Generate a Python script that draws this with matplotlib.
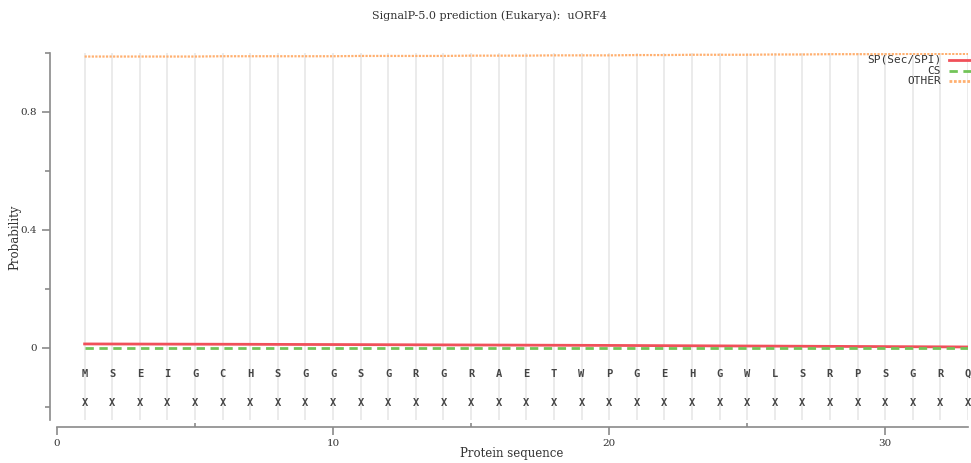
import matplotlib
matplotlib.use("Agg")
import matplotlib.pyplot as plt
from matplotlib.lines import Line2D

# residues of uORF4 and the per-position probabilities
sequence = list("MSEIGCHSGGSGRGRAETWPGEHGWLSRPSGRQ")
region = ["X"] * len(sequence)
positions = list(range(1, len(sequence) + 1))

sp_prob = [0.0130, 0.0128, 0.0126, 0.0124, 0.0122, 0.0120, 0.0118, 0.0115,
           0.0112, 0.0110, 0.0107, 0.0104, 0.0101, 0.0098, 0.0095, 0.0092,
           0.0089, 0.0086, 0.0083, 0.0080, 0.0076, 0.0072, 0.0068, 0.0064,
           0.0060, 0.0056, 0.0052, 0.0048, 0.0044, 0.0040, 0.0036, 0.0032,
           0.0028]
cs_prob = [0.0005] * len(sequence)
other_prob = [0.988, 0.988, 0.988, 0.988, 0.988, 0.989, 0.989, 0.989,
              0.989, 0.989, 0.990, 0.990, 0.990, 0.990, 0.991, 0.991,
              0.991, 0.992, 0.992, 0.992, 0.993, 0.993, 0.994, 0.994,
              0.994, 0.995, 0.995, 0.996, 0.996, 0.996, 0.997, 0.997,
              0.997]

W, H = 971, 463
fig = plt.figure(figsize=(W / 100, H / 100), dpi=100)
ax = fig.add_axes([57 / W, 1 - 420 / H, (968 - 57) / W, (420 - 53) / H])

red = "#f0505a"
green = "#72c458"
orange = "#ffb070"
txt = "#333333"
spine_c = "#8a8a8a"

for p in positions:
    ax.axvline(p, color="#ebebeb", lw=1.4, zorder=0)

ax.plot(positions, other_prob, color=orange, lw=1.6, ls=(0, (1, 0.6)), zorder=3)
ax.plot(positions, sp_prob, color=red, lw=2, zorder=3)
ax.plot(positions, cs_prob, color=green, lw=2, ls=(0, (3, 2)), zorder=4)

for p, aa, r in zip(positions, sequence, region):
    ax.text(p, -0.088, aa, ha="center", va="center", fontsize=7.5,
            family="DejaVu Sans Mono", weight="bold", color="#444444")
    ax.text(p, -0.186, r, ha="center", va="center", fontsize=7.5,
            family="DejaVu Sans Mono", weight="bold", color="#444444")

ax.set_xlim(0, 33)
ax.set_ylim(-0.245, 1.0)

ax.set_xticks([0, 10, 20, 30])
ax.set_xticks([5, 15, 25], minor=True)
ax.set_yticks([0, 0.4, 0.8])
ax.set_yticklabels(["0", "0.4", "0.8"])
ax.set_yticks([-0.2, 0.2, 0.6, 1.0], minor=True)

for side in ["top", "right"]:
    ax.spines[side].set_visible(False)
for side in ["left", "bottom"]:
    ax.spines[side].set_position(("outward", 5))
    ax.spines[side].set_color(spine_c)
    ax.spines[side].set_linewidth(1.2)

ax.tick_params(axis="both", which="major", length=6, width=1.2, color=spine_c,
               labelsize=7.5, labelcolor=txt)
ax.tick_params(axis="y", which="minor", length=3.5, width=1.2, color=spine_c)
ax.tick_params(axis="x", which="minor", length=3, width=1.2, color=spine_c,
               direction="in")
ax.tick_params(axis="x", which="major", pad=3)
for lab in ax.get_xticklabels() + ax.get_yticklabels():
    lab.set_family("DejaVu Serif")

ax.set_xlabel("Protein sequence", family="DejaVu Serif", fontsize=8.5,
              color=txt, va="center")
ax.set_ylabel("Probability", family="DejaVu Serif", fontsize=8.5,
              color=txt, va="center")
ax.xaxis.set_label_coords((512 - 57) / 911, (420 - 454) / 367)
ax.yaxis.set_label_coords((15 - 57) / 911, (420 - 237) / 367)

fig.text(489 / W, 1 - 16 / H, "SignalP-5.0 prediction (Eukarya):  uORF4",
         ha="center", va="center", family="DejaVu Serif", fontsize=8,
         color=txt)

# legend, right aligned text with sample lines to the right
legend_items = [("SP(Sec/SPI)", red, "-"),
                ("CS", green, (0, (3, 2))),
                ("OTHER", orange, (0, (1, 0.6)))]
for i, (name, col, ls) in enumerate(legend_items):
    y = 1 - (60 + i * 10.5) / H
    fig.text(941 / W, y, name, ha="right", va="center",
             family="DejaVu Sans Mono", fontsize=8, color=txt)
    fig.add_artist(Line2D([949 / W, 985 / W], [y, y], color=col, lw=2,
                          ls=ls, transform=fig.transFigure))

fig.savefig("out.png", dpi=100)
